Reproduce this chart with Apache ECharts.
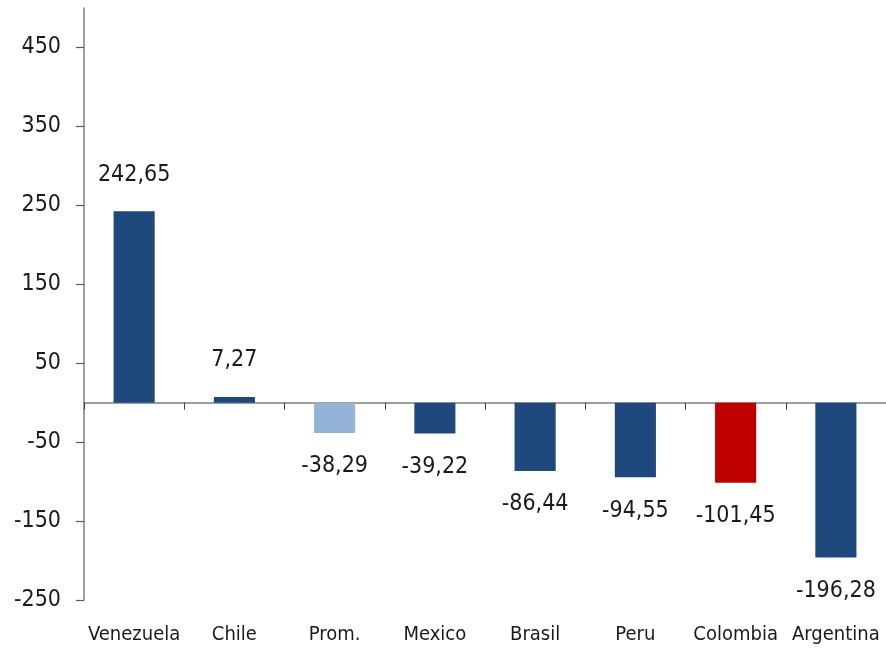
<!DOCTYPE html>
<html>
<head>
<meta charset="utf-8">
<script src="https://cdn.jsdelivr.net/npm/echarts@6/dist/echarts.min.js"></script>
<style>
  html, body { margin: 0; padding: 0; background: #fff; }
  #chart { width: 886px; height: 649px; }
</style>
</head>
<body>
<div id="chart"></div>
<script>
// data
const categories = ['Venezuela', 'Chile', 'Prom.', 'Mexico', 'Brasil', 'Peru', 'Colombia', 'Argentina']
const values = [242.65, 7.27, -38.29, -39.22, -86.44, -94.55, -101.45, -196.28]
const barColors = ['#1f497d', '#1f497d', '#95b3d7', '#1f497d', '#1f497d', '#1f497d', '#c00000', '#1f497d']

const FONT = '"Liberation Sans Narrow", "Arial Narrow", "DejaVu Sans Condensed", sans-serif'

const chart = echarts.init(document.getElementById('chart'))

const seriesData = values.map((v, i) => ({
  value: v,
  itemStyle: { color: barColors[i] },
  label: v >= 0
    ? { position: 'top', distance: 25 }
    : { position: 'bottom', distance: 22 }
}))

const option = {
  backgroundColor: '#fff',
  animation: false,
  grid: {
    left: 84,
    right: 0,
    top: 8,
    bottom: 49
  },
  xAxis: [
    {
      // zero line with boundary ticks
      type: 'category',
      data: categories,
      position: 'bottom',
      axisLine: { onZero: true, lineStyle: { color: '#7f7f7f', width: 1.5 } },
      axisTick: { show: true, length: 7, lineStyle: { color: '#404040', width: 1 } },
      axisLabel: { show: false }
    },
    {
      // labels along the bottom
      type: 'category',
      data: categories,
      position: 'bottom',
      axisLine: { show: false, onZero: false },
      axisTick: { show: false },
      axisLabel: {
        interval: 0,
        margin: 25,
        color: '#1a1a1a',
        fontFamily: FONT,
        fontSize: 20
      }
    }
  ],
  yAxis: {
    type: 'value',
    min: -250,
    max: 500,
    interval: 100,
    axisLine: { show: true, lineStyle: { color: '#7f7f7f', width: 1.5 } },
    axisTick: { show: true, length: 8, lineStyle: { color: '#595959', width: 1.2 } },
    splitLine: { show: false },
    axisLabel: {
      showMaxLabel: false,
      margin: 23,
      color: '#1a1a1a',
      fontFamily: FONT,
      fontSize: 23
    }
  },
  series: [{
    type: 'bar',
    xAxisIndex: 0,
    data: seriesData,
    barWidth: '41%',
    label: {
      show: true,
      color: '#1a1a1a',
      fontFamily: FONT,
      fontSize: 23,
      formatter: p => p.value.toFixed(2).replace('.', ',')
    }
  }]
}

chart.setOption(option)
</script>
</body>
</html>
